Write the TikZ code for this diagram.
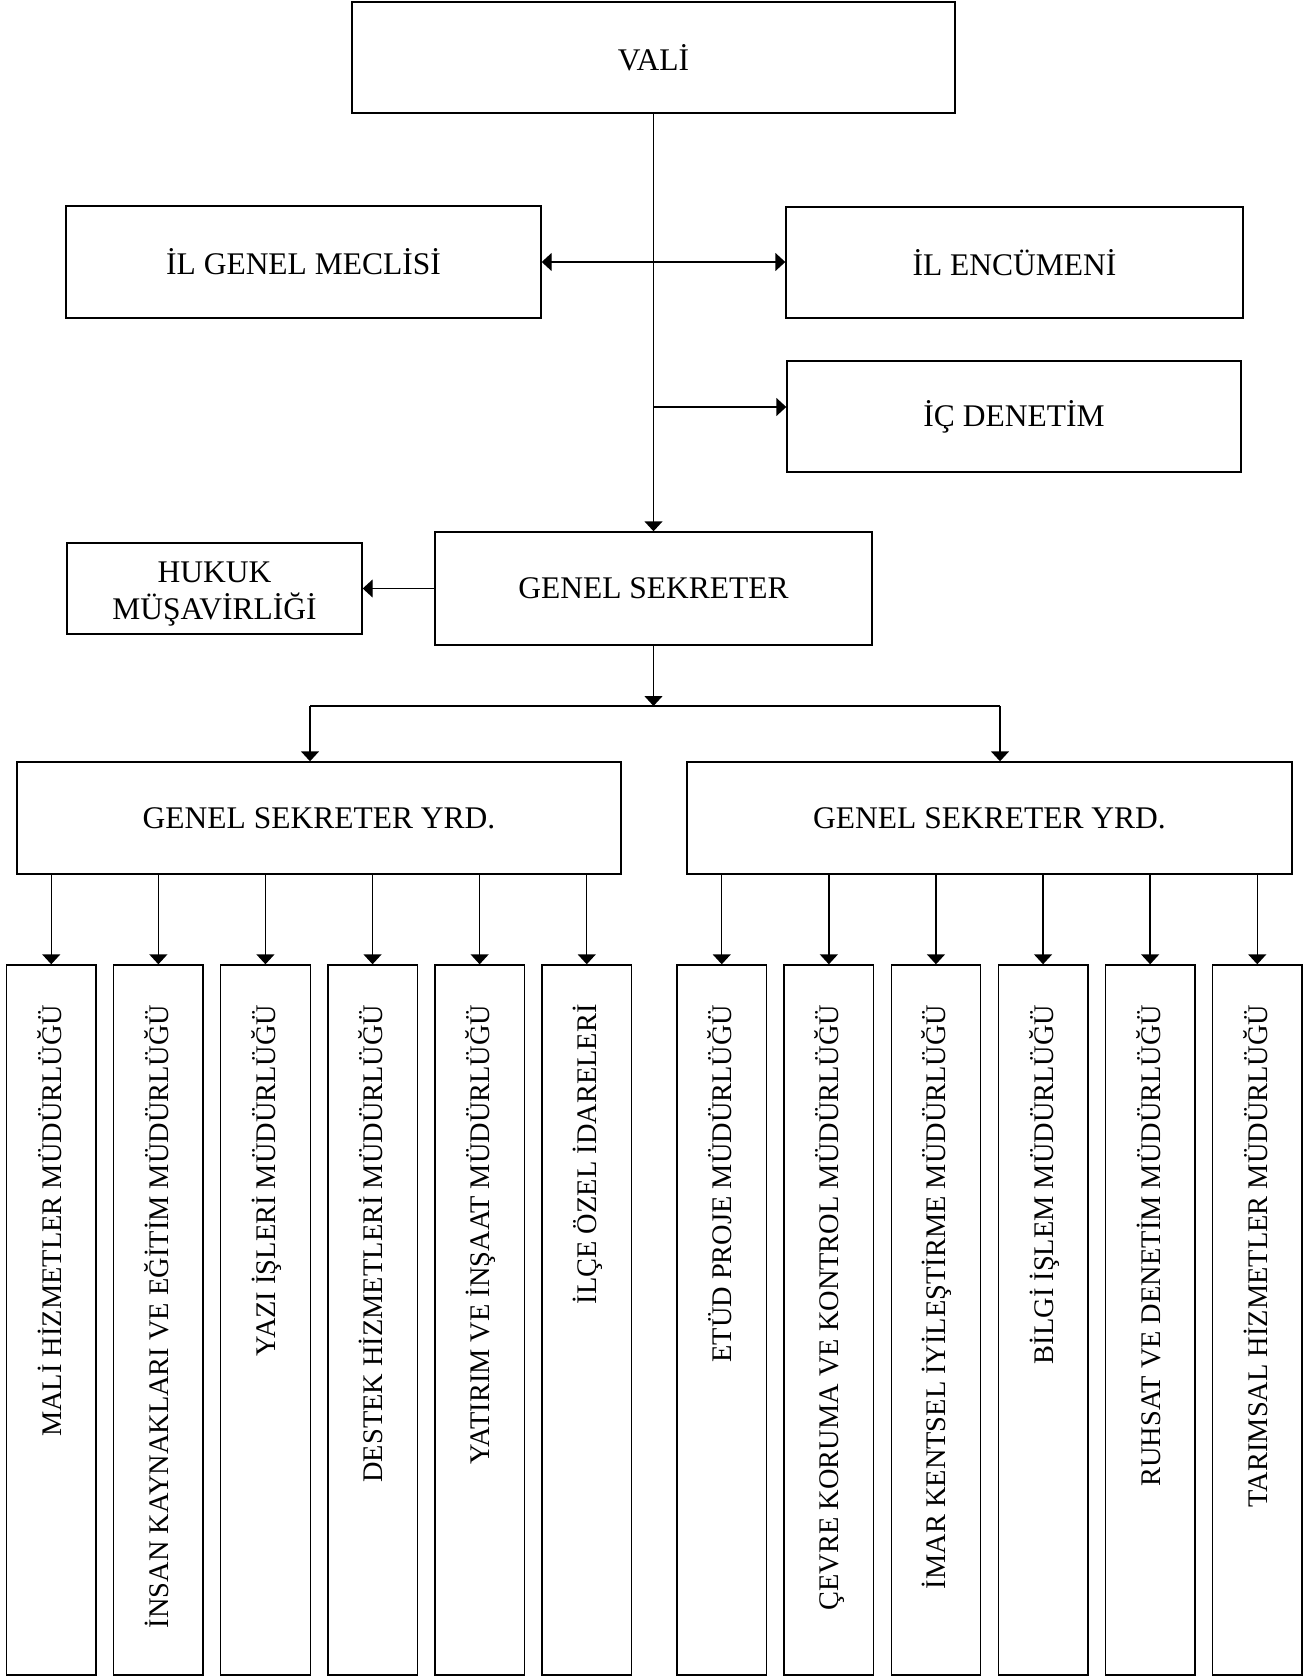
\documentclass[tikz,border=0pt]{standalone}
\usepackage{fontspec}
\setmainfont{Liberation Serif}
\usetikzlibrary{arrows.meta}
\begin{document}
\begin{tikzpicture}[x=1pt,y=-1pt,
  box/.style={draw, line width=1.4pt, inner sep=0pt, align=center, font=\fontsize{31.5}{37}\selectfont},
  vbox/.style={draw, line width=1.4pt, inner sep=0pt, minimum width=89.5pt, minimum height=710pt},
  vtext/.style={rotate=90, anchor=base east, inner sep=0pt, font=\fontsize{28.4}{32}\selectfont},
  conn/.style={line width=1.4pt},
  arr/.style={conn, -{Triangle[length=10pt,width=18pt]}},
  darr/.style={conn, {Triangle[length=10pt,width=18pt]}-{Triangle[length=10pt,width=18pt]}}]
\useasboundingbox (0,0) rectangle (1314,1677);

\node[box, minimum width=603pt, minimum height=111pt] (vali) at (653.5,57.5) {VALİ};
\node[box, minimum width=475pt, minimum height=112pt] (igm) at (303.5,262) {İL GENEL MECLİSİ};
\node[box, minimum width=457pt, minimum height=111pt] (ie) at (1014.5,262.5) {İL ENCÜMENİ};
\node[box, minimum width=454pt, minimum height=111pt] (icd) at (1014,416.5) {İÇ DENETİM};
\node[box, minimum width=437pt, minimum height=113pt] (gs) at (653.5,588.5) {GENEL SEKRETER};
\node[box, minimum width=295pt, minimum height=91pt] (huk) at (214.5,588.5) {\rule{0pt}{31pt}HUKUK\\MÜŞAVİRLİĞİ};
\node[box, minimum width=604pt, minimum height=112pt] (gsy1) at (319,818) {GENEL SEKRETER YRD.};
\node[box, minimum width=605pt, minimum height=112pt] (gsy2) at (989.5,818) {GENEL SEKRETER YRD.};

\draw[arr] (vali.south) -- (gs.north);
\draw[darr] (igm.east) -- (igm.east -| ie.west);
\coordinate (ic) at (653.5,407);
\draw[arr] (ic) -- (ic -| icd.west);
\draw[arr] (gs.west) -- (huk.east);

\coordinate (j) at (653.5,706);
\coordinate (jl) at (310,706);
\coordinate (jr) at (1000,706);
\draw[arr] (gs.south) -- (j);
\draw[conn] (jl) -- (jr);
\draw[arr] (jl) -- (jl |- gsy1.north);
\draw[arr] (jr) -- (jr |- gsy2.north);

\foreach \i/\t in {0/MALİ HİZMETLER MÜDÜRLÜĞÜ,
                   1/İNSAN KAYNAKLARI VE EĞİTİM MÜDÜRLÜĞÜ,
                   2/YAZI İŞLERİ MÜDÜRLÜĞÜ,
                   3/DESTEK HİZMETLERİ MÜDÜRLÜĞÜ,
                   4/YATIRIM VE İNŞAAT MÜDÜRLÜĞÜ,
                   5/İLÇE ÖZEL İDARELERİ} {
  \node[vbox] (l\i) at (51.25+107.1*\i,1320) {};
  \node[vtext] (lt\i) at ([xshift=10pt,yshift=-40pt]l\i.north) {\t};
  \draw[arr] (l\i.north |- gsy1.south) -- (l\i.north);
}
\foreach \i/\t in {0/ETÜD PROJE MÜDÜRLÜĞÜ,
                   1/ÇEVRE KORUMA VE KONTROL MÜDÜRLÜĞÜ,
                   2/İMAR KENTSEL İYİLEŞTİRME MÜDÜRLÜĞÜ,
                   3/BİLGİ İŞLEM MÜDÜRLÜĞÜ,
                   4/RUHSAT VE DENETİM MÜDÜRLÜĞÜ,
                   5/TARIMSAL HİZMETLER MÜDÜRLÜĞÜ} {
  \node[vbox] (r\i) at (721.75+107.1*\i,1320) {};
  \node[vtext] (rt\i) at ([xshift=10pt,yshift=-40pt]r\i.north) {\t};
  \draw[arr] (r\i.north |- gsy2.south) -- (r\i.north);
}
\end{tikzpicture}
\end{document}
